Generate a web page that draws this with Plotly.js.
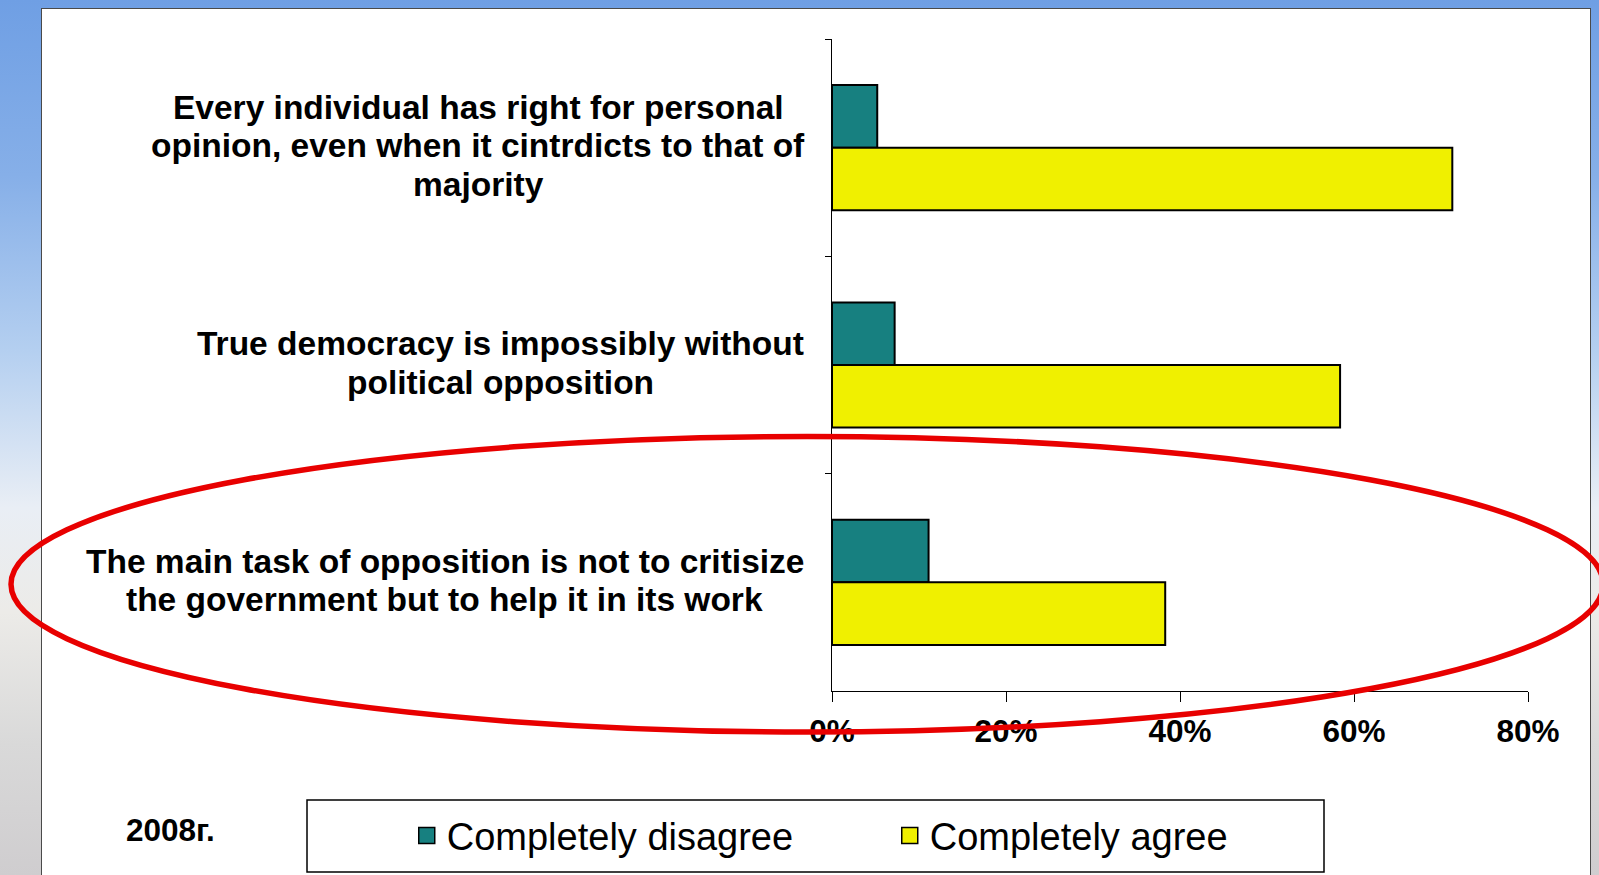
<!DOCTYPE html>
<html>
<head>
<meta charset="utf-8">
<script src="https://cdn.plot.ly/plotly-3.0.1.min.js"></script>
<style>
  html, body { margin: 0; padding: 0; width: 1599px; height: 875px; overflow: hidden; }
  body { background: linear-gradient(180deg, #6f9fe4 0%, #86afe8 20%, #b4cff0 40%, #e9eef5 58%, #ecebe8 70%, #d9d9d9 85%, #cfcdcf 100%); position: relative; }
  #panel { position: absolute; left: 41px; top: 8px; width: 1550px; height: 880px; background: #ffffff; border: 1px solid #4a4a4a; box-sizing: border-box; }
  #chart { position: absolute; left: 0; top: 0; width: 1599px; height: 875px; }
</style>
</head>
<body>
<div id="panel"></div>
<div id="chart"></div>
<script>
// ---- data ----
const categories = ["cat1", "cat2", "cat3"];
const categoryLabelLines = [
  ["Every individual has right for personal", "opinion, even when it cintrdicts to that of", "majority"],
  ["True democracy is impossibly without", "political opposition"],
  ["The main task of opposition is not to critisize", "the government but to help it in its work"]
];
const disagreeValues = [5.2, 7.2, 11.1];
const agreeValues = [71.3, 58.4, 38.3];
const seriesNames = ["Completely disagree", "Completely agree"];
const seriesColors = ["#178080", "#f0f000"];
const xTickValues = [0, 20, 40, 60, 80];
const xTickLabels = ["0%", "20%", "40%", "60%", "80%"];
const yearLabel = "2008г.";

const FONT = "Liberation Sans, Arial, sans-serif";

const traces = [
  {
    type: "bar", orientation: "h", name: seriesNames[0], showlegend: false,
    y: categories, x: disagreeValues,
    marker: { color: seriesColors[0], line: { color: "#000000", width: 2 } },
    hoverinfo: "x"
  },
  {
    type: "bar", orientation: "h", name: seriesNames[1], showlegend: false,
    y: categories, x: agreeValues,
    marker: { color: seriesColors[1], line: { color: "#000000", width: 2 } },
    hoverinfo: "x"
  },
  // legend entries (larger square symbols)
  {
    type: "scatter", mode: "markers", name: seriesNames[0], x: [null], y: [null],
    marker: { symbol: "square", size: 16, color: seriesColors[0], line: { color: "#000000", width: 1.5 } }
  },
  {
    type: "scatter", mode: "markers", name: seriesNames[1], x: [null], y: [null],
    marker: { symbol: "square", size: 16, color: seriesColors[1], line: { color: "#000000", width: 1.5 } }
  }
];

// label block horizontal centres (paper units) and line spacing
const labelCentres = [-0.5086, -0.477, -0.5566];
const lineStep = 38.5;
const annotations = [];
categories.forEach((c, i) => {
  const lines = categoryLabelLines[i];
  lines.forEach((ln, j) => {
    annotations.push({
      xref: "paper", yref: "y", x: labelCentres[i], y: c,
      xanchor: "center", yanchor: "middle", align: "center",
      yshift: ((lines.length - 1) / 2 - j) * lineStep + 2,
      text: ln, showarrow: false,
      font: { family: FONT, size: 33.5, color: "#000000", weight: "bold" }
    });
  });
});
annotations.push({
  xref: "paper", yref: "paper", x: -0.951, y: -0.213,
  xanchor: "center", yanchor: "middle", text: yearLabel, showarrow: false,
  font: { family: FONT, size: 31.5, color: "#000000", weight: "bold" }
});

const layout = {
  width: 1599, height: 875,
  margin: { l: 832, r: 71, t: 39, b: 184, pad: 0, autoexpand: false },
  paper_bgcolor: "rgba(0,0,0,0)",
  plot_bgcolor: "rgba(0,0,0,0)",
  barmode: "group",
  bargap: 0.424,
  bargroupgap: 0,
  showlegend: true,
  legend: {
    orientation: "h", x: -0.611, xanchor: "left", y: -0.222, yanchor: "middle",
    bgcolor: "rgba(0,0,0,0)", borderwidth: 0,
    entrywidth: 438, entrywidthmode: "pixels",
    itemsizing: "trace",
    font: { family: FONT, size: 38, color: "#000000" },
    traceorder: "normal"
  },
  xaxis: {
    range: [0, 80], tickvals: xTickValues, ticktext: xTickLabels,
    showgrid: false, zeroline: false,
    showline: true, linecolor: "#000000", linewidth: 1,
    ticks: "outside", ticklen: 10, tickcolor: "#000000", tickwidth: 1,
    ticklabelstandoff: 2,
    tickfont: { family: FONT, size: 31.5, color: "#000000", weight: "bold" },
    fixedrange: true, automargin: false
  },
  yaxis: {
    type: "category", autorange: "reversed", categoryorder: "array", categoryarray: categories,
    showticklabels: false, showgrid: false, zeroline: false,
    showline: true, linecolor: "#000000", linewidth: 1,
    ticks: "outside", tickson: "boundaries", ticklen: 6, tickcolor: "#000000",
    fixedrange: true, automargin: false
  },
  annotations: annotations,
  shapes: [
    {
      type: "rect", xref: "paper", yref: "paper", layer: "below",
      x0: -0.7543, x1: 0.7069, y0: -0.1672, y1: -0.2776,
      line: { color: "#000000", width: 1.5 }, fillcolor: "rgba(0,0,0,0)"
    },
    {
      type: "circle", xref: "paper", yref: "paper", layer: "above",
      x0: -1.1796, x1: 1.108, y0: 0.3904, y1: -0.063,
      line: { color: "#e80000", width: 5.5 }, fillcolor: "rgba(0,0,0,0)"
    }
  ]
};

Plotly.newPlot("chart", traces, layout, { displayModeBar: false, staticPlot: true });
</script>
</body>
</html>
